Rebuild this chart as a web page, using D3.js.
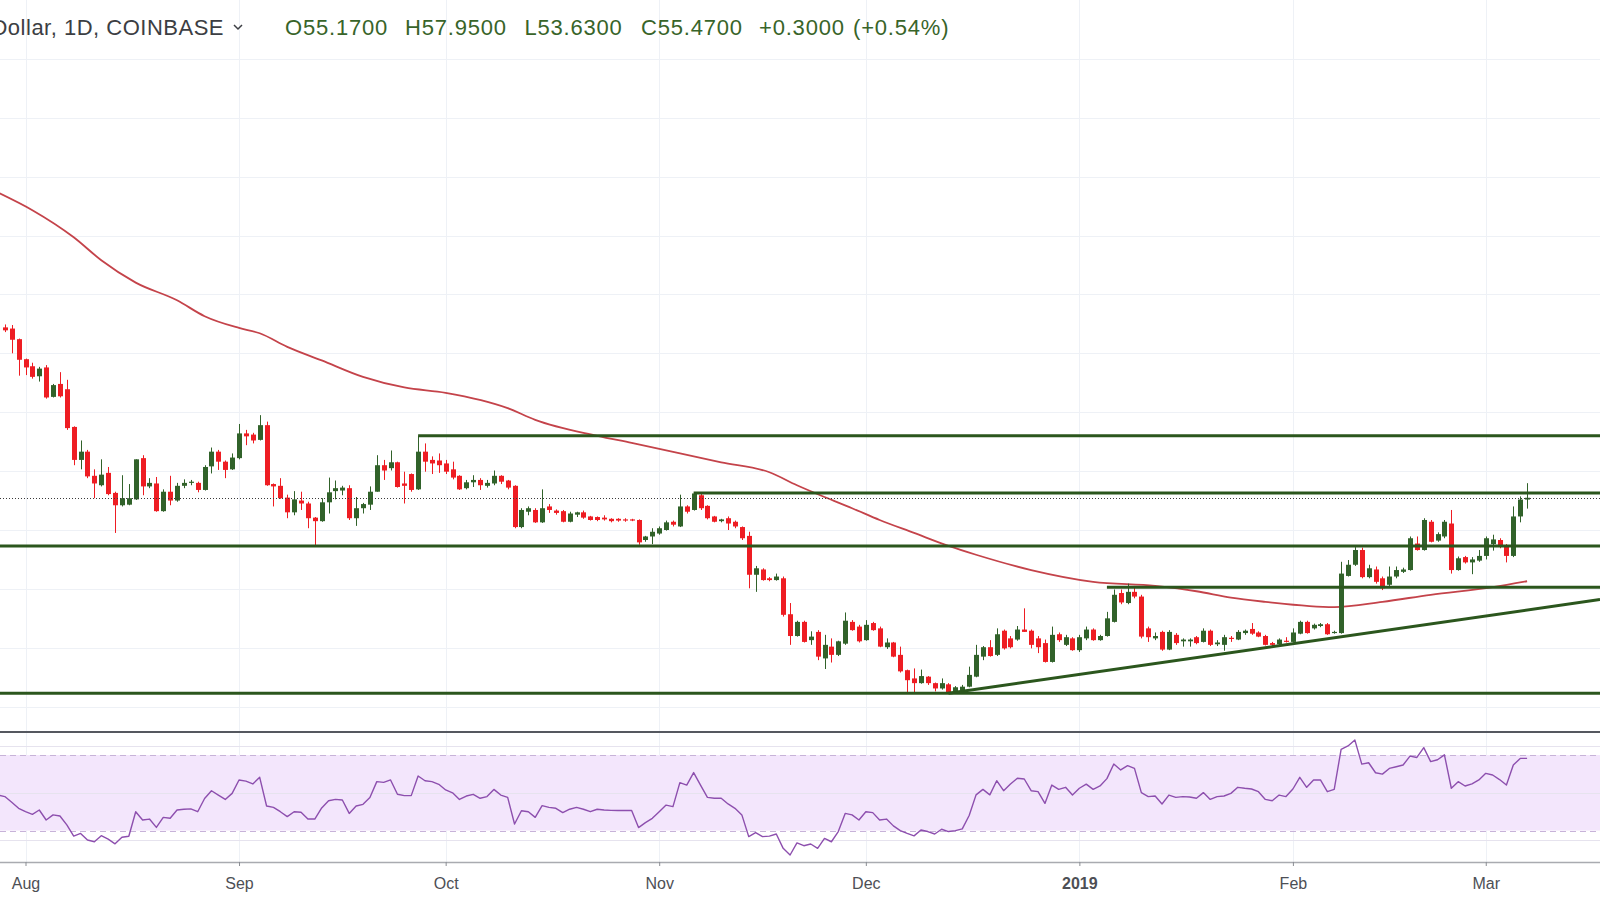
<!DOCTYPE html>
<html><head><meta charset="utf-8">
<script src="https://cdn.jsdelivr.net/npm/d3@7"></script>
<style>
html,body{margin:0;padding:0;background:#fff;overflow:hidden}
svg{display:block}
</style></head>
<body><svg id="c" width="1600" height="900"></svg>
<script>
// ---------------- DATA ----------------
const candleStart = "2018-07-29";
const opens  = [84.4,84.2,82.4,79.0,77.8,76.1,77.6,72.6,74.8,73.9,67.5,61.9,63.3,59.2,57.6,59.7,56.3,54.2,54.3,55.2,62.2,57.4,57.9,53.2,56.5,55.0,57.5,58.0,58.0,56.8,60.8,63.3,61.6,60.3,62.2,66.4,66.2,65.3,67.8,57.8,57.5,55.5,53.0,55.0,54.5,52.1,51.5,54.7,56.6,56.7,57.1,52.0,53.7,54.3,56.5,61.0,60.5,61.5,57.9,59.5,56.9,63.3,61.9,61.8,61.3,60.3,59.2,57.1,58.1,58.5,57.5,57.9,59.2,58.4,57.5,50.5,53.1,53.4,51.3,54.0,53.3,53.2,51.4,52.6,53.0,52.3,52.2,52.1,51.9,51.9,51.8,51.8,51.7,48.3,48.9,49.4,50.0,51.4,50.6,54.0,53.4,55.9,54.1,52.3,51.5,52.0,51.4,50.5,49.0,42.4,43.3,41.8,41.5,41.8,35.7,32.0,34.4,31.3,32.7,28.2,30.2,28.8,30.7,34.4,33.6,31.3,34.2,33.3,30.1,30.9,28.8,26.2,24.8,24.0,25.1,24.0,23.1,23.8,22.6,22.8,23.4,25.1,28.5,30.1,28.8,32.9,31.6,31.4,33.1,32.9,31.6,30.8,27.6,32.3,30.5,31.6,29.6,31.6,33.1,31.3,32.0,34.4,39.3,37.6,39.5,38.7,33.3,31.6,32.7,29.7,32.2,31.1,31.1,31.8,31.0,32.9,30.6,30.5,31.7,31.4,32.5,33.2,32.6,32.0,30.8,30.6,31.2,31.0,32.4,34.4,33.3,33.7,34.0,32.5,32.5,42.2,44.1,46.6,42.0,43.3,41.8,40.7,42.1,42.9,43.2,47.7,46.6,51.4,48.2,48.9,51.1,43.2,45.4,44.5,44.8,45.6,47.6,48.3,47.3,45.6,52.3,55.17];
const highs  = [84.9,84.8,82.5,79.1,78.4,77.7,78.0,74.8,76.8,75.5,67.6,65.2,63.6,60.3,62.0,60.7,56.5,59.3,57.8,62.0,62.7,58.8,59.0,56.9,59.2,58.0,58.6,58.5,58.2,61.0,64.0,63.6,61.8,63.0,68.0,67.0,66.5,69.5,68.4,57.9,58.8,56.0,56.6,56.5,54.8,52.2,55.4,58.9,58.4,57.5,57.6,55.6,54.6,57.4,62.7,61.9,63.5,61.6,59.9,59.6,66.0,64.7,62.5,63.0,61.9,61.6,59.3,58.5,59.3,58.8,58.5,60.1,59.3,58.5,57.6,53.7,54.0,53.7,56.9,54.4,53.5,53.4,53.1,53.1,53.3,52.4,52.3,52.5,52.0,52.0,52.0,51.9,51.8,49.0,50.3,50.6,51.6,51.6,56.0,54.2,56.3,56.2,54.2,52.4,51.9,52.3,51.6,50.6,49.7,43.9,43.5,42.0,42.6,42.1,37.6,34.6,34.6,32.8,33.0,32.2,31.6,31.2,36.0,34.7,33.9,34.7,34.4,33.6,31.6,31.0,30.2,26.3,26.5,26.3,25.2,24.1,24.8,24.0,23.5,23.7,26.8,30.5,30.3,31.3,33.3,33.1,32.0,33.7,36.7,33.1,32.0,31.4,33.6,32.6,32.2,31.8,32.2,33.6,33.3,32.2,36.1,39.9,39.9,40.9,40.5,39.0,33.6,32.6,32.9,33.0,32.5,31.6,31.6,32.0,33.3,33.1,31.3,32.2,32.0,33.0,33.1,34.2,32.8,32.2,31.0,31.6,31.8,33.3,34.6,34.6,34.1,34.2,34.2,32.9,44.6,44.9,47.1,47.0,44.1,43.8,42.1,43.8,43.8,43.6,48.9,48.9,52.0,51.7,49.6,51.7,53.4,45.5,45.6,45.4,46.6,48.9,49.2,48.6,47.6,54.0,55.7,57.95];
const lows   = [83.6,80.0,76.2,76.3,75.7,75.2,72.3,72.5,72.5,67.0,61.0,60.3,58.8,55.4,57.4,55.9,49.5,54.0,54.2,55.1,55.9,57.1,53.1,53.1,54.2,54.8,57.1,57.6,56.4,56.7,59.6,60.2,58.8,60.2,62.0,64.4,64.7,65.2,57.5,54.0,55.3,52.0,52.5,53.4,50.3,47.2,51.4,52.8,55.2,55.9,51.7,50.7,52.8,53.4,56.5,58.5,60.1,57.2,54.5,56.5,56.8,59.9,59.5,59.7,59.5,58.6,56.8,56.9,57.3,56.8,57.2,57.6,57.8,56.9,50.3,50.3,52.5,51.2,51.2,52.9,52.6,51.3,51.3,52.2,51.9,51.6,51.5,51.6,51.3,51.4,51.4,51.5,47.5,48.0,47.6,49.2,49.9,50.6,50.5,52.8,53.3,53.4,51.8,51.3,51.3,50.0,50.3,48.3,40.1,39.5,41.4,41.3,41.4,35.3,30.5,31.9,30.9,30.5,27.9,26.4,27.5,28.6,30.5,32.9,30.9,31.2,32.9,30.1,29.8,28.4,25.8,22.4,22.4,23.9,23.7,22.6,22.9,22.3,22.3,22.6,23.3,25.0,27.9,28.5,28.6,29.7,29.9,31.2,32.7,29.9,29.1,27.5,27.5,31.0,30.3,29.5,29.3,31.3,31.2,31.2,31.9,34.3,37.4,37.4,38.4,31.6,31.0,31.3,29.5,29.6,30.5,30.2,30.2,30.6,30.9,30.3,30.3,29.5,31.0,31.3,32.2,32.2,31.8,30.4,30.2,30.4,30.9,30.9,32.3,32.4,33.1,33.5,32.2,32.4,32.4,42.1,43.9,41.8,41.8,40.9,39.8,40.5,41.8,42.7,43.1,46.5,46.5,47.9,48.0,48.6,42.6,43.1,44.3,42.5,44.6,45.0,46.5,46.9,44.5,45.4,51.3,53.63];
const closes = [83.9,82.3,78.9,77.6,76.0,77.4,72.5,74.6,72.7,67.3,61.9,63.3,59.1,57.9,59.4,56.1,54.2,55.4,55.4,62.0,57.4,58.0,53.2,56.5,55.0,57.5,58.0,58.2,56.8,60.7,63.3,61.6,60.2,62.3,66.4,65.9,65.2,67.8,57.6,57.4,55.4,53.0,55.2,54.5,52.0,51.5,54.7,56.4,57.1,57.2,52.0,53.7,54.4,56.5,61.0,60.1,61.5,57.3,57.5,56.8,63.3,61.6,61.3,61.0,59.9,58.9,56.9,58.1,58.5,57.6,58.0,59.2,58.2,57.2,50.5,53.4,53.7,51.3,53.7,53.4,52.9,51.4,52.8,53.0,52.1,51.7,51.7,51.8,51.5,51.6,51.6,51.6,47.9,48.9,49.7,50.3,51.3,50.9,54.0,53.1,56.2,53.7,52.0,51.4,51.8,51.1,50.6,48.6,42.4,43.5,41.5,41.5,42.1,35.6,32.0,34.4,31.0,31.9,28.5,30.5,28.8,31.1,34.6,33.0,31.1,33.9,33.0,30.2,30.9,28.5,26.0,24.5,24.0,25.2,24.0,23.1,24.0,22.4,23.3,23.4,25.4,28.8,30.1,28.6,32.3,29.9,30.1,33.1,32.7,30.5,30.1,27.6,32.2,31.3,31.8,29.6,31.8,33.1,31.3,32.0,35.0,39.0,37.7,39.5,38.7,31.9,31.8,32.0,29.7,32.7,30.8,31.4,31.4,30.8,32.9,30.5,30.9,31.8,31.5,32.7,32.9,32.4,31.9,30.5,30.5,31.4,31.0,32.6,34.4,32.5,33.9,34.0,32.3,32.7,42.6,44.1,46.6,42.0,43.5,41.2,40.1,42.1,43.2,43.3,48.6,46.6,51.7,48.0,49.3,51.4,43.2,45.2,44.5,45.0,45.6,48.6,48.4,47.3,45.6,52.3,55.17,55.47];

const rsiStart = "2018-07-28";
const rsiValues = [48.8,48.0,45.0,41.8,40.0,38.6,40.9,35.6,38.3,37.7,33.0,27.1,28.5,25.0,24.1,27.3,25.5,23.0,26.5,27.0,40.0,35.6,36.1,31.7,37.0,36.5,40.9,41.3,41.5,40.0,47.0,51.1,48.8,46.5,49.7,56.8,56.2,54.7,58.2,43.0,42.3,40.0,37.4,40.0,39.7,36.1,36.1,42.0,45.8,46.5,46.2,39.1,43.0,43.9,47.5,55.9,55.5,56.8,49.2,48.5,48.5,58.9,56.4,55.9,54.5,51.5,50.0,46.5,48.3,49.2,47.1,48.0,51.8,48.8,47.6,33.5,40.5,40.0,37.0,43.2,42.3,41.8,39.5,41.3,42.3,41.3,40.0,41.3,40.9,40.7,40.6,40.6,40.6,31.6,34.2,36.5,40.0,43.5,42.7,55.4,54.1,60.7,54.1,47.6,47.1,47.1,44.1,41.8,38.3,26.8,28.9,26.8,27.1,28.2,20.6,17.1,23.5,22.0,22.9,20.6,25.9,24.1,29.5,39.1,38.3,35.6,40.0,39.5,35.6,36.1,32.5,30.0,28.5,27.2,30.3,29.5,28.2,30.7,29.5,30.0,30.9,38.0,48.9,51.8,48.9,56.4,51.1,54.7,57.7,57.3,51.1,50.6,44.4,54.1,51.8,52.9,48.8,52.4,54.6,51.8,53.6,57.5,65.2,62.1,64.4,62.9,50.1,48.0,48.3,44.1,48.8,47.6,48.0,47.8,47.1,50.1,46.5,48.0,48.3,49.7,52.9,52.4,52.0,50.6,46.5,45.8,48.8,48.0,52.0,58.2,52.9,56.8,56.8,50.6,51.8,73.0,74.8,77.9,65.2,65.9,60.6,59.9,62.9,63.8,64.7,69.4,68.7,73.9,66.5,67.5,70.1,52.4,55.9,53.6,54.7,56.8,60.3,59.4,57.0,54.1,64.7,68.2,68.2];

const maDates  = ["2018-07-28","2018-08-02","2018-08-08","2018-08-12","2018-08-17","2018-08-23","2018-08-27","2018-09-01","2018-09-04","2018-09-08","2018-09-13","2018-09-19","2018-09-25","2018-10-01","2018-10-10","2018-10-14","2018-10-23","2018-10-28","2018-11-10","2018-11-17","2018-11-21","2018-11-25","2018-11-29","2018-12-03","2018-12-08","2018-12-13","2018-12-17","2018-12-25","2019-01-03","2019-01-12","2019-01-18","2019-01-23","2019-01-28","2019-02-07","2019-02-14","2019-02-21","2019-03-02","2019-03-07"];
const maValues = [107.3,104.3,99.7,95.8,92.0,89.0,86.3,84.3,83.4,81.1,78.8,76.0,74.2,73.3,70.7,68.7,66.0,64.8,61.5,59.8,57.6,55.6,53.7,51.7,49.5,47.3,45.8,43.2,41.2,40.5,39.6,38.5,37.8,36.9,37.8,39.0,40.3,41.3];

const levelPrices = [66.0, 56.3, 47.3, 40.3, 22.3];
const levelStarts = ["2018-09-27", "2018-11-06", null, "2019-01-05", null];
const trendDates  = ["2018-12-13", "2019-03-01"];
const trendPrices = [22.3, 35.4];

const monthTicks  = ["2018-08-01","2018-09-01","2018-10-01","2018-11-01","2018-12-01","2019-01-01","2019-02-01","2019-03-01"];
const monthLabels = ["Aug","Sep","Oct","Nov","Dec","2019","Feb","Mar"];
const priceGrid = [20,30,40,50,60,70,80,90,100,110,120,130];
const rsiGrid = [25,50,75];
const rsiBand = [30,70];
const lastClose = 55.47;
const headerTitle = "Litecoin / U.S. Dollar, 1D, COINBASE";
const headerValues = ["O55.1700","H57.9500","L53.6300","C55.4700","+0.3000","(+0.54%)"];

// ---------------- SCALES ----------------
const W = 1600;
const parse = d3.utcParse("%Y-%m-%d");
const x = d3.scaleUtc()
  .domain([parse("2018-08-01"), parse("2019-03-01")])
  .range([25.5, 25.5 + 212 * 6.888]);
const y = d3.scaleLinear().domain([50, 80]).range([530, 353.3]);
const yR = d3.scaleLinear().domain([30, 70]).range([830.6, 755]);

const c0 = parse(candleStart);
const candles = opens.map((o, i) => ({
  d: d3.utcDay.offset(c0, i), o, h: highs[i], l: lows[i], c: closes[i]
}));
const r0 = parse(rsiStart);
const rsi = rsiValues.map((v, i) => ({ d: d3.utcDay.offset(r0, i), v }));
const ma = maDates.map((d, i) => ({ d: parse(d), v: maValues[i] }));

const svg = d3.select("#c");
const GREEN = "#31622a", RED = "#ee1d23", LINEG = "#2b561d";

// ---------------- GRID ----------------
const grid = svg.append("g");
grid.selectAll("line.h").data(priceGrid).join("line")
  .attr("x1", 0).attr("x2", W)
  .attr("y1", d => Math.round(y(d)) + 0.5).attr("y2", d => Math.round(y(d)) + 0.5)
  .attr("stroke", "#eef1f6").attr("stroke-width", 1);
grid.selectAll("line.v").data(monthTicks).join("line")
  .attr("x1", d => Math.round(x(parse(d))) + 0.5).attr("x2", d => Math.round(x(parse(d))) + 0.5)
  .attr("y1", 0).attr("y2", 862)
  .attr("stroke", "#eef1f6").attr("stroke-width", 1);

// ---------------- RSI PANE ----------------
const rp = svg.append("g");
rp.append("rect").attr("x", 0).attr("width", W)
  .attr("y", yR(rsiBand[1])).attr("height", yR(rsiBand[0]) - yR(rsiBand[1]))
  .attr("fill", "#f3e6fc");
rp.selectAll("line.rg").data(rsiGrid).join("line")
  .attr("x1", 0).attr("x2", W)
  .attr("y1", d => Math.round(yR(d)) + 0.5).attr("y2", d => Math.round(yR(d)) + 0.5)
  .attr("stroke", "#e6e3ee").attr("stroke-width", 1);
rp.selectAll("line.rb").data(rsiBand).join("line")
  .attr("x1", 0).attr("x2", W)
  .attr("y1", d => Math.round(yR(d)) + 0.5).attr("y2", d => Math.round(yR(d)) + 0.5)
  .attr("stroke", "#c7b3d8").attr("stroke-width", 1).attr("stroke-dasharray", "6,4");
rp.append("path").datum(rsi)
  .attr("d", d3.line().x(d => x(d.d)).y(d => yR(d.v)))
  .attr("fill", "none").attr("stroke", "#8d4fae").attr("stroke-width", 1.4)
  .attr("stroke-linejoin", "round");

// pane separator
svg.append("line").attr("x1", 0).attr("x2", W).attr("y1", 732).attr("y2", 732)
  .attr("stroke", "#55585f").attr("stroke-width", 2);

// ---------------- MA ----------------
svg.append("path").datum(ma)
  .attr("d", d3.line().curve(d3.curveMonotoneX).x(d => x(d.d)).y(d => y(d.v)))
  .attr("fill", "none").attr("stroke", "#c4434a").attr("stroke-width", 1.8);

// ---------------- CANDLES ----------------
const cg = svg.append("g");
const cx = d => Math.round(x(d.d));
cg.selectAll("line.w").data(candles).join("line")
  .attr("x1", d => cx(d) + 0.5).attr("x2", d => cx(d) + 0.5)
  .attr("y1", d => y(d.h)).attr("y2", d => y(d.l))
  .attr("stroke", d => d.c >= d.o ? GREEN : RED).attr("stroke-width", 1);
cg.selectAll("rect").data(candles).join("rect")
  .attr("x", d => cx(d) - 2).attr("width", 5)
  .attr("y", d => y(Math.max(d.o, d.c)))
  .attr("height", d => Math.max(1, Math.abs(y(d.o) - y(d.c))))
  .attr("fill", d => d.c >= d.o ? GREEN : RED);

// close dotted line
svg.append("line").attr("x1", 0).attr("x2", W)
  .attr("y1", Math.round(y(lastClose)) + 0.5).attr("y2", Math.round(y(lastClose)) + 0.5)
  .attr("stroke", "#3a3a3a").attr("stroke-width", 1).attr("stroke-dasharray", "1,2");

// ---------------- DRAWINGS ----------------
const dg = svg.append("g");
dg.selectAll("line.lv").data(levelPrices).join("line")
  .attr("x1", (p, i) => levelStarts[i] ? x(parse(levelStarts[i])) : 0)
  .attr("x2", W)
  .attr("y1", p => y(p)).attr("y2", p => y(p))
  .attr("stroke", LINEG).attr("stroke-width", 3);
{
  const tx0 = x(parse(trendDates[0])), ty0 = y(trendPrices[0]);
  const tx1 = x(parse(trendDates[1])), ty1 = y(trendPrices[1]);
  const slope = (ty1 - ty0) / (tx1 - tx0);
  dg.append("line").attr("x1", tx0).attr("y1", ty0)
    .attr("x2", W).attr("y2", ty0 + slope * (W - tx0))
    .attr("stroke", LINEG).attr("stroke-width", 3);
}

// ---------------- TIME AXIS ----------------
svg.append("rect").attr("x", 0).attr("y", 862).attr("width", W).attr("height", 38).attr("fill", "#fff");
const ax = svg.append("g").attr("transform", "translate(0,862)");
ax.call(d3.axisBottom(x).tickValues(monthTicks.map(parse)).tickSize(4)
  .tickFormat((d, i) => monthLabels[i]));
ax.select(".domain").attr("stroke", "#a9abb0").attr("stroke-width", 1.5).attr("d", `M0,0.5H${W}`);
ax.selectAll(".tick line").attr("stroke", "#8a8d93");
ax.selectAll(".tick text")
  .attr("font-family", "Liberation Sans, Arial, sans-serif")
  .attr("font-size", 16).attr("fill", "#4d4f55").attr("y", 10).attr("dy", "1.05em")
  .attr("font-weight", (d, i) => monthLabels[i] === "2019" ? "bold" : "normal");

// ---------------- HEADER ----------------
const hf = "Liberation Sans, Arial, sans-serif";
svg.append("text").attr("x", 224).attr("y", 35).attr("text-anchor", "end")
  .attr("font-family", hf).attr("font-size", 22).attr("letter-spacing", 0.5).attr("fill", "#3c3e43")
  .text(headerTitle);
svg.append("path").attr("d", "M234,25 L238,29 L242,25")
  .attr("fill", "none").attr("stroke", "#3c3e43").attr("stroke-width", 1.5);
const hx = [285, 405, 524.5, 641, 759, 853];
svg.selectAll("text.hv").data(headerValues).join("text")
  .attr("x", (d, i) => hx[i]).attr("y", 35)
  .attr("font-family", hf).attr("font-size", 22).attr("letter-spacing", 0.8).attr("fill", "#386429")
  .text(d => d);
</script>
</body></html>
